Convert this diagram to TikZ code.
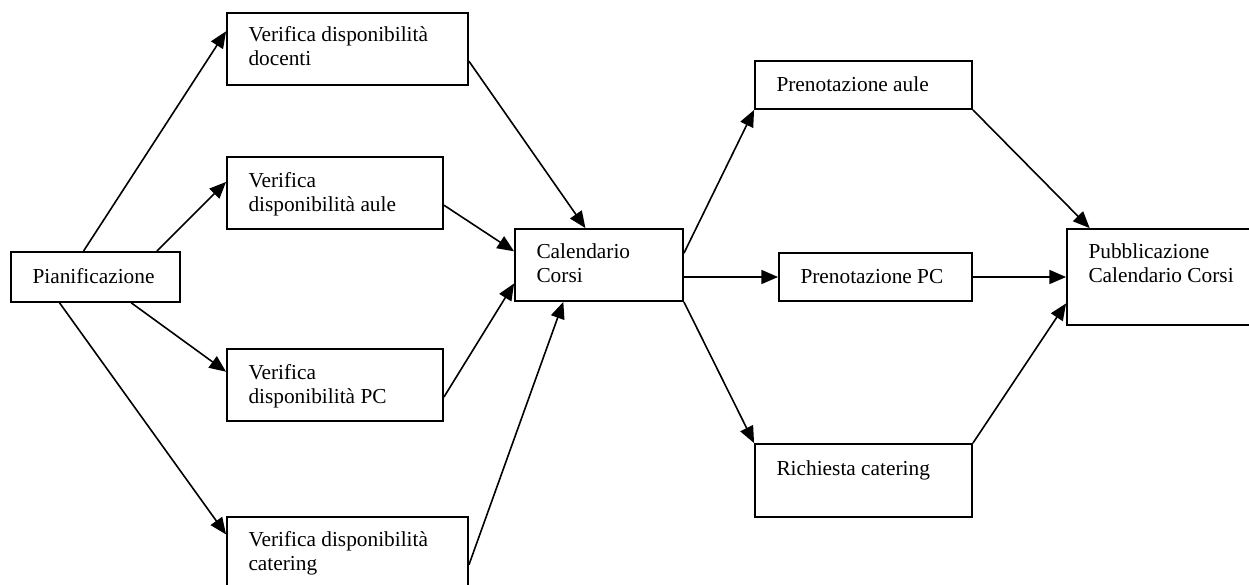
\documentclass[tikz,border=0pt]{standalone}
\usepackage{fontspec}
\setmainfont{Liberation Serif}
\usetikzlibrary{arrows.meta,calc,fit}

\tikzset{every picture/.style={line width=0.75pt}}
\tikzset{
  box/.style={draw, line width=1.4pt, inner sep=0pt},
  lbl/.style={anchor=base west, inner sep=0pt, align=left, font=\fontsize{16}{17.5}\selectfont},
  flow/.style={line width=1.2pt, -{Triangle[length=12.5pt,width=10.5pt]}}
}

\begin{document}
\begin{tikzpicture}[x=0.75pt,y=0.75pt,yscale=-1,xscale=1]
    \useasboundingbox (0,0) rectangle (1249,585);

    %Shape: Rectangle [Pianificazione]
    \node [box, fit={(11,252) (180,302)}] (pian) {};
    %Shape: Rectangle [docenti]
    \node [box, fit={(227,13) (468,85)}] (doc) {};
    %Shape: Rectangle [aule]
    \node [box, fit={(227,157) (443,229)}] (aule) {};
    %Shape: Rectangle [PC]
    \node [box, fit={(227,349) (443,421)}] (pc) {};
    %Shape: Rectangle [catering]
    \node [box, fit={(227,517) (468,595)}] (cat) {};
    %Shape: Rectangle [Calendario]
    \node [box, fit={(515,229) (683,301)}] (cal) {};
    %Shape: Rectangle [Prenotazione aule]
    \node [box, fit={(755,61) (972,109)}] (praule) {};
    %Shape: Rectangle [Prenotazione PC]
    \node [box, fit={(779,253) (972,301)}] (prpc) {};
    %Shape: Rectangle [Richiesta catering]
    \node [box, fit={(755,444) (972,517)}] (ric) {};
    %Shape: Rectangle [Pubblicazione]
    \node [box, fit={(1067,229) (1262,325)}] (pub) {};

    % Text Node (two-line nodes sit on the baseline of their last line)
    \node [lbl] (pianT) at (32,283) {Pianificazione};
    % Text Node
    \node [lbl] (docT) at (248,65.3) {Verifica disponibilità\\docenti};
    % Text Node
    \node [lbl] (auleT) at (248,211.3) {Verifica\\disponibilità aule};
    % Text Node
    \node [lbl] (pcT) at (248,403.3) {Verifica\\disponibilità PC};
    % Text Node
    \node [lbl] (catT) at (248,570.3) {Verifica disponibilità\\catering};
    % Text Node
    \node [lbl] (calT) at (536,282.3) {Calendario\\Corsi};
    % Text Node
    \node [lbl] (prauleT) at (776,92) {Prenotazione aule};
    % Text Node
    \node [lbl] (prpcT) at (800,283) {Prenotazione PC};
    % Text Node
    \node [lbl] (ricT) at (776,475) {Richiesta catering};
    % Text Node
    \node [lbl] (pubT) at (1088,282.3) {Pubblicazione\\Calendario Corsi};

    %Straight Lines [Pianificazione out]
    \draw [flow] ($(pian.north west)!0.43!(pian.north east)$) -- ($(doc.north west)!0.26!(doc.south west)$);
    \draw [flow] ($(pian.north west)!0.86!(pian.north east)$) -- ($(aule.north west)!0.35!(aule.south west)$);
    \draw [flow] ($(pian.south west)!0.71!(pian.south east)$) -- ($(pc.north west)!0.32!(pc.south west)$);
    \draw [flow] ($(pian.south west)!0.29!(pian.south east)$) -- ($(cat.north west)!0.23!(cat.south west)$);
    %Straight Lines [Calendario in]
    \draw [flow] ($(doc.north east)!0.665!(doc.south east)$) -- ($(cal.north west)!0.42!(cal.north east)$);
    \draw [flow] ($(aule.north east)!0.665!(aule.south east)$) -- ($(cal.north west)!0.315!(cal.south west)$);
    \draw [flow] ($(pc.north east)!0.663!(pc.south east)$) -- ($(cal.north west)!0.75!(cal.south west)$);
    \draw [flow] ($(cat.north east)!0.61!(cat.south east)$) -- ($(cal.south west)!0.29!(cal.south east)$);
    %Straight Lines [Calendario out]
    \draw [flow] ($(cal.north east)!0.34!(cal.south east)$) -- (praule.south west);
    \draw [flow] (cal.east |- prpc.west) -- (prpc.west);
    \draw [flow] (cal.south east) -- (ric.north west);
    %Straight Lines [Pubblicazione in]
    \draw [flow] (praule.south east) -- ($(pub.north west)!0.12!(pub.north east)$);
    \draw [flow] (prpc.east) -- (prpc.east -| pub.west);
    \draw [flow] (ric.north east) -- ($(pub.north west)!0.77!(pub.south west)$);

\end{tikzpicture}
\end{document}
